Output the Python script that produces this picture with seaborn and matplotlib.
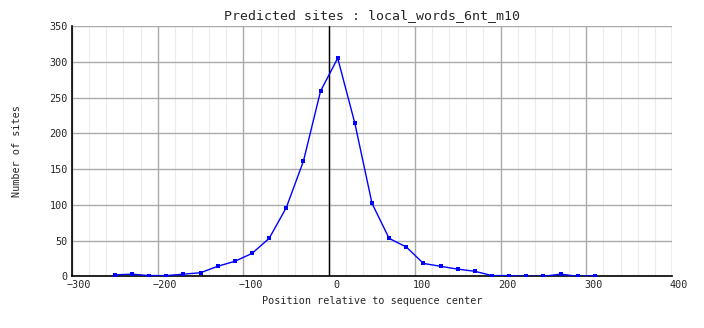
import matplotlib
matplotlib.use("Agg")
import matplotlib.pyplot as plt
import matplotlib.transforms as mtransforms
from matplotlib.ticker import MultipleLocator
import pandas as pd
import seaborn as sns

sns.set_style('white')
plt.rcParams['font.family'] = ['DejaVu Sans Mono']

# data
positions = [-250, -230, -210, -190, -170, -150, -130, -110, -90, -70, -50, -30, -10,
             10, 30, 50, 70, 90, 110, 130, 150, 170, 190, 210, 230, 250, 270, 290, 310]
sites = [2, 3, 1, 1, 3, 5, 14, 21, 32, 53, 96, 161, 259,
         305, 214, 102, 53, 41, 18, 14, 10, 7, 1, 1, 0, 0, 3, 0, 1]
df = pd.DataFrame({"position": positions, "sites": sites})

fig = plt.figure(figsize=(7.04, 3.28), dpi=100)
ax = fig.add_axes([72/704, 1 - 276.3/328, 600/704, 250.3/328])

sns.lineplot(data=df, x="position", y="sites", ax=ax, color="#0000ff", lw=1,
             marker="s", markersize=3, markeredgewidth=0, zorder=3)

ax.set_xlim(-300, 400)
ax.set_ylim(0, 350)
ax.xaxis.set_major_locator(MultipleLocator(100))
ax.xaxis.set_minor_locator(MultipleLocator(20))
ax.yaxis.set_major_locator(MultipleLocator(50))
ax.grid(which="minor", axis="x", color="#ececec", lw=0.8, zorder=0)
ax.grid(which="major", color="#aaaaaa", lw=1, zorder=1)
ax.axvline(0, color="black", lw=1, zorder=2)
ax.set_axisbelow(True)

for s in ["top", "right"]:
    ax.spines[s].set_visible(False)
for s in ["left", "bottom"]:
    ax.spines[s].set_color("black")
    ax.spines[s].set_linewidth(1.2)

ax.tick_params(which="both", length=0, labelsize=7.3, pad=3)
shift = mtransforms.ScaledTranslation(7/100, 0, fig.dpi_scale_trans)
for lab in ax.get_xticklabels():
    lab.set_transform(lab.get_transform() + shift)

ax.set_title("Predicted sites : local_words_6nt_m10", fontsize=9.5, pad=5)
ax.set_xlabel("Position relative to sequence center", fontsize=7.3, labelpad=4)
ax.set_ylabel("Number of sites", fontsize=7.3, labelpad=20)

fig.savefig("out.png", dpi=100)
